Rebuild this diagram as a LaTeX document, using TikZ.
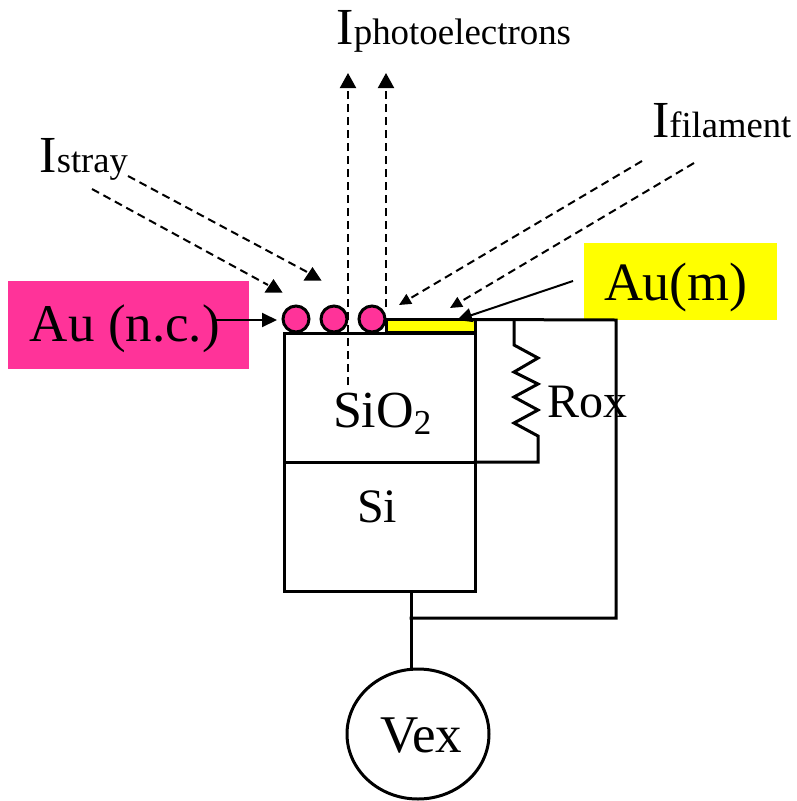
\documentclass[tikz,border=0pt]{standalone}
\usepackage{fontspec}
\setmainfont{Liberation Serif}
\usetikzlibrary{arrows.meta,shapes.geometric}
\newcommand{\fs}[1]{\fontsize{#1}{#1}\selectfont}
\tikzset{
  x=1pt,y=-1pt,
  wire/.style={line width=3pt,line cap=rect,line join=miter},
  ray/.style={line width=2pt,dash pattern=on 8pt off 5pt},
  bigtip/.style={-{Triangle[length=15pt,width=16pt]}},
  smalltip/.style={-{Triangle[length=12pt,width=11pt]}},
  label/.style={inner sep=0pt,outer sep=0pt,anchor=base west},
  layer/.style={draw,line width=3pt,fill=white,inner sep=0pt,outer sep=0pt,minimum width=191pt},
  dot/.style={circle,draw,line width=3pt,fill=dotpink,minimum size=26pt,inner sep=0pt,outer sep=0pt},
  tag/.style={inner sep=0pt,outer sep=0pt}
}
\definecolor{dotpink}{HTML}{FF3399}
\definecolor{metal}{HTML}{FFFF00}
\newcommand{\uptri}[1]{\fill (#1) ++(0,-13.5) -- ++(9,13.5) -- ++(-18,0) -- cycle;}
\begin{document}
\begin{tikzpicture}
\useasboundingbox (0,0) rectangle (796,801);
\fill[white] (0,0) rectangle (796,801);
% colored tags
\node[tag,fill=dotpink,minimum width=241pt,minimum height=88pt] (pinktag) at (128.5,325) {};
\node[tag,fill=metal,minimum width=193pt,minimum height=77pt] (yellowtag) at (680.5,281.5) {};
% structure
\node[layer,minimum height=129pt] (oxide) at (379.5,397.5) {};
\node[layer,minimum height=129pt] (silicon) at (379.5,526.5) {};
\node[draw,fill=metal,line width=3pt,inner sep=0pt,outer sep=0pt,minimum width=89pt,minimum height=13pt] (film) at (430.5,326) {};
\node[dot] (d1) at (296,319) {};
\node[dot] (d2) at (334,319) {};
\node[dot] (d3) at (372,319) {};
\node[draw,ellipse,line width=3pt,fill=white,minimum width=142pt,minimum height=130pt,inner sep=0pt,outer sep=0pt] (vex) at (418,734) {};
% coordinates
\coordinate (topA) at (616,320);
\coordinate (gnd) at (616,618);
\coordinate (tee) at (411,618);
\coordinate (siB) at (411,591);
\coordinate (rT) at (514,320);
\coordinate (rB) at (539,462);
\coordinate (ph1s) at (348,385);
\coordinate (ph1e) at (348,73);
\coordinate (ph2s) at (386,307);
\coordinate (ph2e) at (386,73);
\coordinate (st1s) at (128,176);
\coordinate (st1e) at (309,273);
\coordinate (st1t) at (312.5,280.5);
\coordinate (st2s) at (92,189);
\coordinate (st2e) at (268,285);
\coordinate (st2t) at (273.5,292.5);
\coordinate (fi1s) at (642,161);
\coordinate (fi1e) at (399,305);
\coordinate (fi2s) at (694,163);
\coordinate (fi2e) at (450,308);
\coordinate (amS) at (573,281);
\coordinate (amE) at (457,320);
\coordinate (ncS) at (213,320);
\coordinate (ncE) at (277,320);
% wires
\draw[wire] (film.north east) -- (topA) -- (gnd) -- (tee);
\draw[wire] (siB) -- (tee) -- (vex.north -| tee);
\draw[wire] (rT) -- (514,345) -- (538,358) -- (514,372) -- (538,384) -- (514,397) -- (538,410) -- (514,423) -- (538,436) -- (538,462) -- (oxide.south east);
% rays
\draw[ray,bigtip] (ph1s) -- (ph1e);
\draw[ray,bigtip] (ph2s) -- (ph2e);
\draw[ray] (st1s) -- (st1e);
\draw[ray] (st2s) -- (st2e);
\uptri{st1t}
\uptri{st2t}
\draw[ray,smalltip] (fi1s) -- (fi1e);
\draw[ray,smalltip] (fi2s) -- (fi2e);
\draw[line width=2pt,-{Triangle[length=15pt,width=14pt]}] (amS) -- (amE);
% labels
\node[label,font=\fs{52}] (ph) at (336.5,44) {I\fs{36.9}photoelectrons};
\node[label,font=\fs{52}] (st) at (39.5,172) {I\fs{36.5}stray};
\node[label,font=\fs{52}] (fi) at (652,137) {I\fs{36.6}filament};
\node[label,font=\fs{53}] (nc) at (30,341) {Au (n.c.)};
\node[label,font=\fs{54}] (am) at (604,300) {Au(m)};
\node[label,font=\fs{52}] (ox) at (333,427) {SiO\raisebox{-7pt}{\fs{35}2}};
\node[label,font=\fs{48}] (si) at (357,522) {Si};
\node[label,font=\fs{48}] (rox) at (547,417) {Rox};
\node[label,font=\fs{53}] (vx) at (380,752) {Vex};
\draw[line width=2pt,-{Triangle[length=15pt,width=14pt]}] (ncS) -- (ncE);
\end{tikzpicture}
\end{document}
